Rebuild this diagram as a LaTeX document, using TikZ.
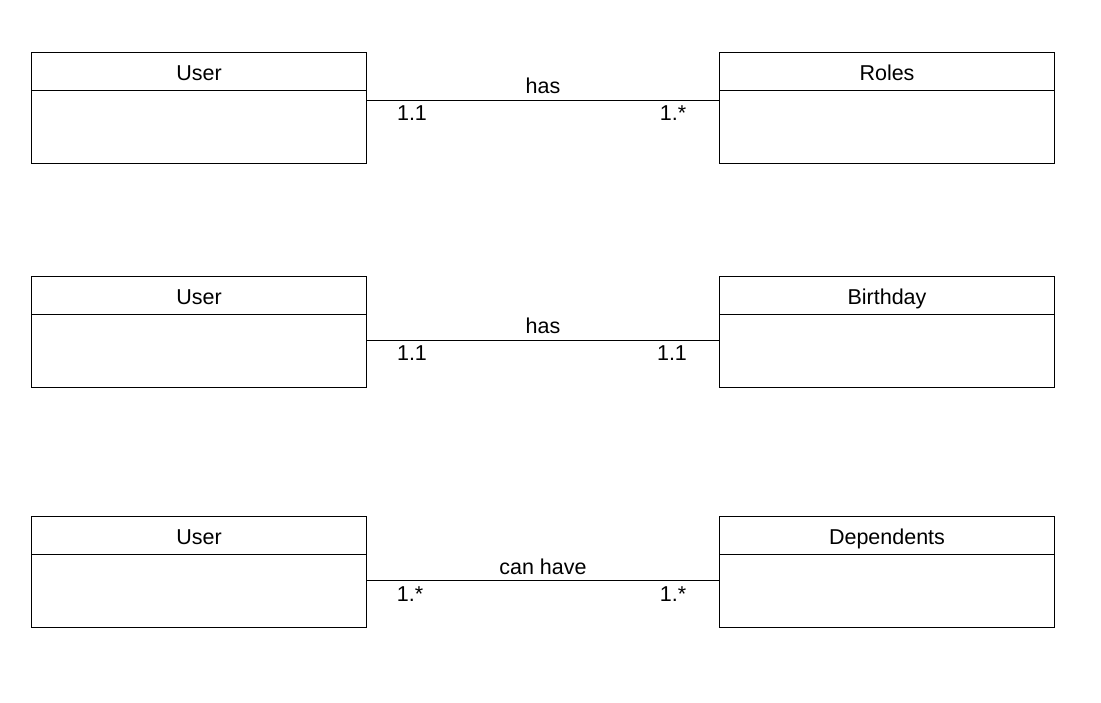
\documentclass[tikz,border=0pt]{standalone}
\usepackage{fontspec}
\setmainfont{Liberation Sans}
\begin{document}
\begin{tikzpicture}[x=1pt,y=-1pt,
  hdr/.style={draw=black,line width=1pt,minimum width=335pt,minimum height=38pt,inner sep=0pt,anchor=north west,text height=20pt,text depth=2pt,font=\fontsize{21.5}{25}\selectfont},
  bdy/.style={draw=black,line width=1pt,minimum width=335pt,minimum height=73pt,inner sep=0pt,anchor=north west},
  lbl/.style={font=\fontsize{21.5}{25}\selectfont,inner sep=0pt,anchor=base},
  conn/.style={draw=black,line width=1pt}]
\useasboundingbox (0,0) rectangle (1101,703);
% row 1
\node[hdr] (u1h) at (31,52) {User};
\node[bdy] (u1b) at (31,90) {};
\node[hdr] (r1h) at (719,52) {Roles};
\node[bdy] (r1b) at (719,90) {};
\coordinate (c1a) at ([yshift=-10.5pt]u1b.north east);
\coordinate (c1b) at ([yshift=-10.5pt]r1b.north west);
\draw[conn] (c1a) -- (c1b);
\node[lbl] (l1) at (543,94) {has};
\node[lbl] (m1a) at (412,121) {1.1};
\node[lbl] (m1b) at (673,121) {1.*};
% row 2
\node[hdr] (u2h) at (31,276) {User};
\node[bdy] (u2b) at (31,314) {};
\node[hdr] (r2h) at (719,276) {Birthday};
\node[bdy] (r2b) at (719,314) {};
\coordinate (c2a) at ([yshift=-26.5pt]u2b.north east);
\coordinate (c2b) at ([yshift=-26.5pt]r2b.north west);
\draw[conn] (c2a) -- (c2b);
\node[lbl] (l2) at (543,334) {has};
\node[lbl] (m2a) at (412,361) {1.1};
\node[lbl] (m2b) at (672,361) {1.1};
% row 3
\node[hdr] (u3h) at (31,516) {User};
\node[bdy] (u3b) at (31,554) {};
\node[hdr] (r3h) at (719,516) {Dependents};
\node[bdy] (r3b) at (719,554) {};
\coordinate (c3a) at ([yshift=-26.5pt]u3b.north east);
\coordinate (c3b) at ([yshift=-26.5pt]r3b.north west);
\draw[conn] (c3a) -- (c3b);
\node[lbl] (l3) at (543,574) {can have};
\node[lbl] (m3a) at (410,601) {1.*};
\node[lbl] (m3b) at (673,601) {1.*};
\end{tikzpicture}
\end{document}
